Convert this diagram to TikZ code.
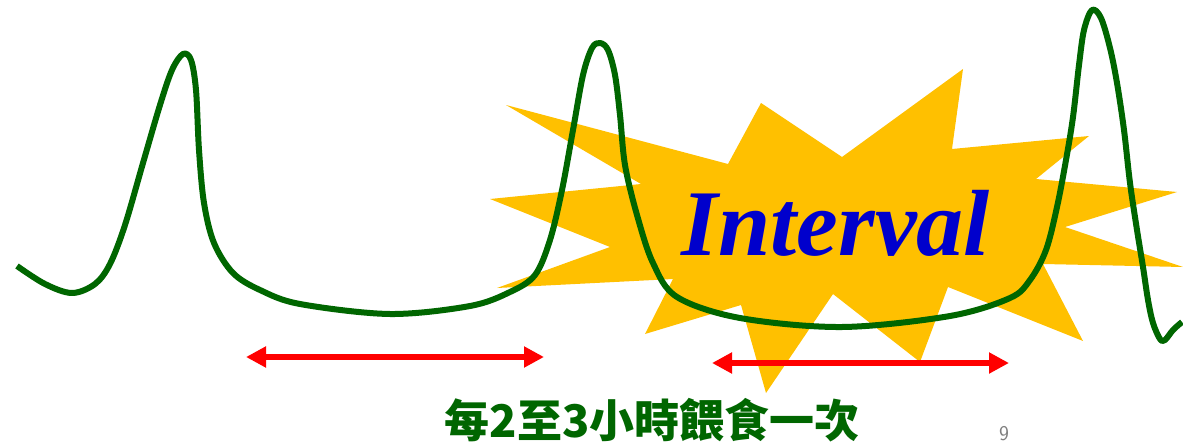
\documentclass[tikz,border=0pt]{standalone}
\usepackage{fontspec}
\usetikzlibrary{arrows.meta}
\newfontfamily\ivfont{Liberation Serif}
\newfontfamily\cjk{Noto Sans CJK TC}
\definecolor{curvegreen}{RGB}{0,102,0}
\definecolor{staryellow}{RGB}{255,192,0}
\definecolor{ivblue}{RGB}{0,0,204}
\definecolor{pagegray}{RGB}{128,128,128}
\tikzset{
  wave/.style={line width=6pt, draw=curvegreen, line join=round, line cap=butt},
  burst/.style={fill=staryellow, draw=none},
  span/.style={line width=6pt, draw=red, {Triangle[length=20pt,width=20pt]}-{Triangle[length=20pt,width=20pt]}},
}
\begin{document}
\begin{tikzpicture}[x=1pt,y=-1pt]
\clip (0,0) rectangle (1183,444);
\fill[white] (0,0) rectangle (1183,444);
% starburst
\fill[burst] (506,105) -- (728,164) -- (761,103) -- (842,157) -- (963,69) -- (952,149)
  -- (1089,136) -- (1036,179) -- (1177,192) -- (1065,227) -- (1183,267) -- (1043,264)
  -- (1083,341) -- (948,287) -- (920,362) -- (833,294) -- (766,393) -- (741,305)
  -- (645,334) -- (673,279) -- (497,288) -- (610,247) -- (490,199) -- (641,184) -- cycle;
% curve
\draw[wave] plot[smooth, tension=0.55] coordinates {
 (17,266) (45,284) (72,293) (95,284) (110,264) (125,225) (143,163) (160,105) (172,70)
 (183,54) (191,60) (196,90) (199,150) (204,203) (214,243) (233,273) (260,290) (300,304)
 (390,314) (470,306) (510,292) (535,275) (550,240) (562,190) (573,130) (583,75) (592,48)
 (600,43) (608,50) (615,75) (620,115) (625,165) (637,215) (653,263) (677,297) (740,318)
 (842,327) (950,316) (1010,298) (1030,280) (1046,250) (1057,207) (1066,160) (1073,117)
 (1079,65) (1084,30) (1092,10) (1101,18) (1110,48) (1117,83) (1124,130) (1130,183)
 (1137,230) (1143,267) (1148,300) (1153,323) (1160,339) (1165,340) (1173,330) (1182,322)};
% text
\node[anchor=base, text=ivblue, font=\ivfont\bfseries\itshape\fontsize{94}{94}\selectfont, inner sep=0pt] (iv) at (836,255) {Interval};
\node[text=curvegreen, font=\cjk\bfseries\fontsize{45}{45}\selectfont, inner sep=0pt] (cap) at (652,420) {每2至3小時餵食一次};
\node[anchor=base, text=pagegray, font=\sffamily\fontsize{21}{21}\selectfont, inner sep=0pt] (pg) at (1004,440) {9};
% arrows
\coordinate (a1l) at (246,357);
\coordinate (a1r) at (544,357);
\coordinate (a2l) at (712,363);
\coordinate (a2r) at (1009,363);
\draw[span] (a1l) -- (a1r);
\draw[span] (a2l) -- (a2r);
\end{tikzpicture}
\end{document}
